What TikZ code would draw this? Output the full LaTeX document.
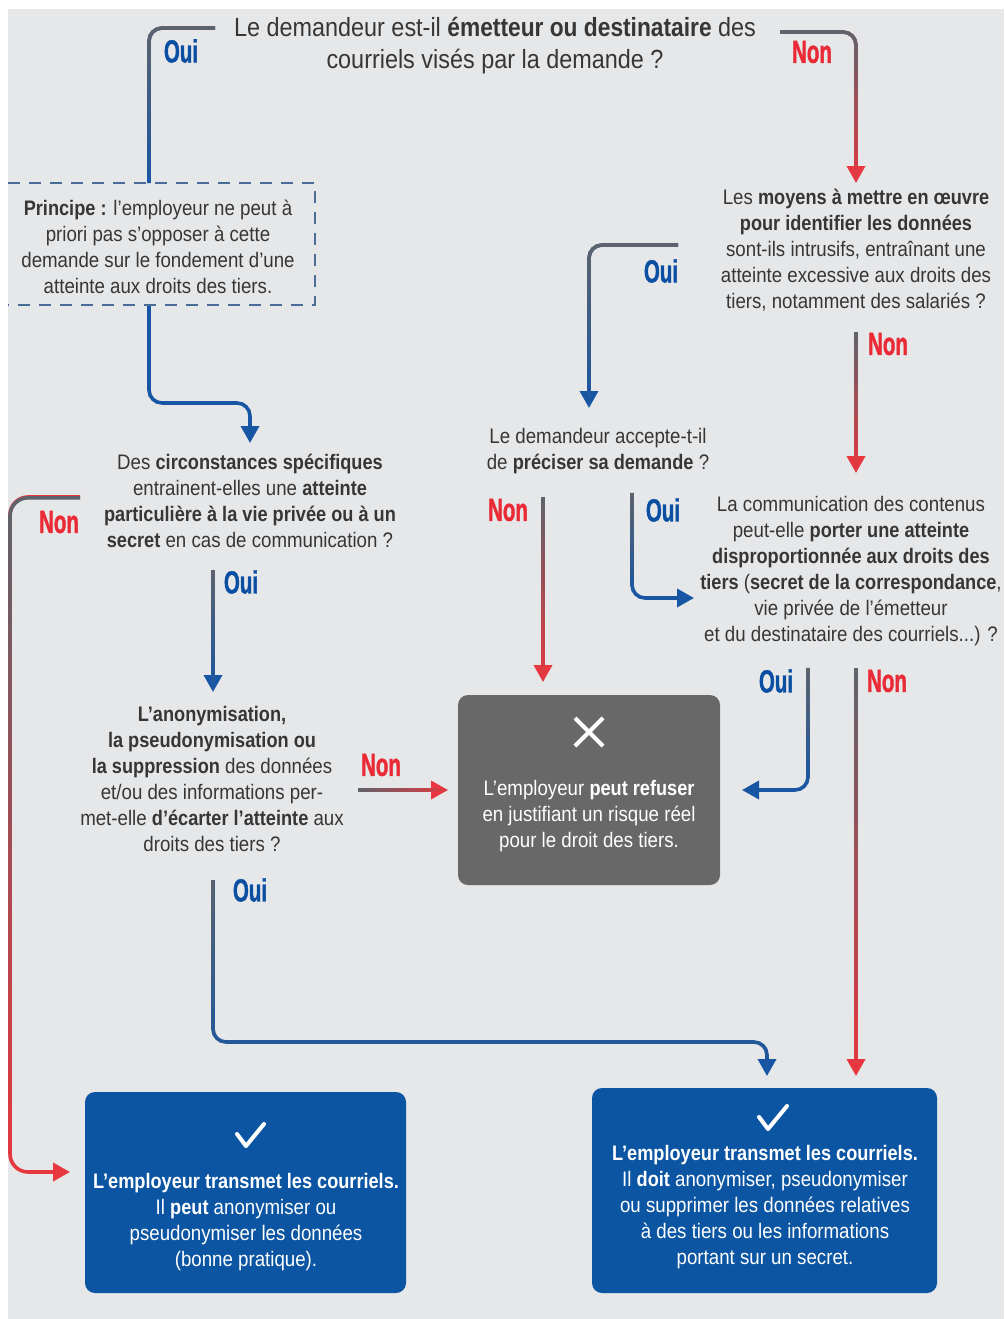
\documentclass[tikz,border=0pt]{standalone}
\usepackage{fontspec}
\setmainfont[FakeStretch=0.89,BoldFeatures={FakeStretch=0.865}]{Liberation Sans}
\newfontfamily\labfont[FakeStretch=0.64,FakeBold=1.2]{Liberation Sans Bold}
\usetikzlibrary{arrows.meta,fadings}
\definecolor{bg}{HTML}{E6E7E9}
\definecolor{txt}{HTML}{363636}
\definecolor{cblue}{HTML}{1756A4}
\definecolor{cred}{HTML}{E8373E}
\definecolor{cgray}{HTML}{5E646C}
\definecolor{lblue}{HTML}{0B4FA3}
\definecolor{lred}{HTML}{EA2B36}
\definecolor{boxblue}{HTML}{0B55A2}
\definecolor{boxgray}{HTML}{686868}
\definecolor{dashc}{HTML}{4A6C98}
\begin{document}
\begin{tikzpicture}[x=1pt,y=-1pt,
  txtn/.style={align=center, text=txt, inner sep=0pt, font=\fontsize{21}{26}\selectfont},
  wtxt/.style={align=center, text=white, inner sep=0pt, font=\fontsize{21}{26}\selectfont},
  oui/.style={text=lblue, inner sep=0pt, font=\labfont\fontsize{32}{32}\selectfont},
  non/.style={text=lred, inner sep=0pt, font=\labfont\fontsize{32}{32}\selectfont},
  conn/.style={line width=3.6pt, rounded corners=13pt},
  tip/.style={-{Triangle[width=18pt,length=17pt]}},
  bluec/.style={conn, draw=cblue},
  redc/.style={conn, draw=cred},
  fadeS/.style={postaction={draw=cgray, line width=3.6pt, path fading=south, -}},
  fadeE/.style={postaction={draw=cgray, line width=3.6pt, path fading=east, -}},
  outbox/.style={rounded corners=10pt, inner sep=0pt},
  icon/.style={draw=white, line width=4pt}
]
\useasboundingbox (0,0) rectangle (1004,1319);
\fill[white] (0,0) rectangle (1004,1319);
\fill[bg] (8,9) rectangle (1004,1319);

% ---------- text nodes ----------
\node[txtn, font=\fontsize{26.3}{32}\selectfont] (title) at (495,46)
  {Le demandeur est-il \textbf{émetteur ou destinataire} des\\courriels visés par la demande ?};
\node[txtn] (principe) at (158,247)
  {\textbf{Principe :} l’employeur ne peut à\\priori pas s’opposer à cette\\demande sur le fondement d’une\\atteinte aux droits des tiers.};
\node[txtn] (moyens) at (856,250)
  {Les \textbf{moyens à mettre en œuvre}\\\textbf{pour identifier les données}\\sont-ils intrusifs, entraînant une\\atteinte excessive aux droits des\\tiers, notamment des salariés ?};
\node[txtn] (accept) at (598,451)
  {Le demandeur accepte-t-il\\de \textbf{préciser sa demande} ?};
\node[txtn] (circ) at (250,501)
  {Des \textbf{circonstances spécifiques}\\entrainent-elles une \textbf{atteinte}\\\textbf{particulière à la vie privée ou à un}\\\textbf{secret} en cas de communication ?};
\node[txtn] (comm) at (851,571)
  {La communication des contenus\\peut-elle \textbf{porter une atteinte}\\\textbf{disproportionnée aux droits des}\\\textbf{tiers} (\textbf{secret de la correspondance},\\vie privée de l’émetteur\\et du destinataire des courriels...) ?};
\node[txtn] (anon) at (212,779)
  {\textbf{L’anonymisation,}\\\textbf{la pseudonymisation ou}\\\textbf{la suppression} des données\\et/ou des informations per-\\met-elle \textbf{d’écarter l’atteinte} aux\\droits des tiers ?};

% dashed principle frame
\draw[dashc, line width=1.8pt, dash pattern=on 12pt off 9pt]
  (8,183) -- (315,183) -- (315,305) -- (8,305);

% ---------- outcome boxes ----------
\node[outbox, fill=boxgray, minimum width=262pt, minimum height=190pt] (refuse) at (589,790) {};
\draw[icon] (575,718) -- (603,746) (575,746) -- (603,718);
\node[wtxt] (refusetxt) at (589,816)
  {L’employeur \textbf{peut refuser}\\en justifiant un risque réel\\pour le droit des tiers.};

\node[outbox, fill=boxblue, minimum width=321pt, minimum height=201pt] (okleft) at (245.5,1192.5) {};
\draw[icon, line cap=round, line join=round] (237,1134) -- (246,1146) -- (264,1124);
\node[wtxt] (oklefttxt) at (246,1222)
  {\textbf{L’employeur transmet les courriels.}\\Il \textbf{peut} anonymiser ou\\pseudonymiser les données\\(bonne pratique).};

\node[outbox, fill=boxblue, minimum width=345pt, minimum height=205pt] (okright) at (764.5,1190.5) {};
\draw[icon, line cap=round, line join=round] (759,1117) -- (768,1129) -- (787,1106);
\node[wtxt] (okrighttxt) at (765,1207)
  {\textbf{L’employeur transmet les courriels.}\\Il \textbf{doit} anonymiser, pseudonymiser\\ou supprimer les données relatives\\à des tiers ou les informations\\portant sur un secret.};

% ---------- connector end points ----------
\coordinate (a1) at (215,28);   \coordinate (b1) at (149,183);
\coordinate (a2) at (780,32);   \coordinate (b2) at (856,183);
\coordinate (a3) at (149,306);  \coordinate (b3) at (250,443);
\coordinate (a4) at (80,497);   \coordinate (b4) at (70,1172);
\coordinate (a5) at (213,570);  \coordinate (b5) at (213,692);
\coordinate (a6) at (358,790);  \coordinate (b6) at (448,790);
\coordinate (a7) at (213,880);  \coordinate (b7) at (767,1076);
\coordinate (a8) at (678,245);  \coordinate (b8) at (589,408);
\coordinate (a9) at (856,332);  \coordinate (b9) at (856,473);
\coordinate (a10) at (543,497); \coordinate (b10) at (543,682);
\coordinate (a11) at (632,493); \coordinate (b11) at (694,598);
\coordinate (a12) at (808,668); \coordinate (b12) at (742,790);
\coordinate (a13) at (856,668); \coordinate (b13) at (856,1076);

% ---------- connectors ----------
\draw[bluec, fadeS] (a1) -| (b1);
\draw[redc, tip, fadeS] (a2) -| (b2);
\draw[bluec, tip] (a3) -- (149,403) -| (b3);
\draw[redc, tip, fadeS, rounded corners=18pt] (a4) -| (10,1172) -- (b4);
\draw[bluec, tip, fadeS] (a5) -- (b5);
\draw[redc, tip, fadeE] (a6) -- (b6);
\draw[bluec, tip, fadeS] (a7) -- (213,1042) -| (b7);
\draw[bluec, tip, fadeS] (a8) -| (b8);
\draw[redc, tip, fadeS] (a9) -- (b9);
\draw[redc, tip, fadeS] (a10) -- (b10);
\draw[bluec, tip, fadeS] (a11) |- (b11);
\draw[bluec, tip, fadeS] (a12) |- (b12);
\draw[redc, tip, fadeS] (a13) -- (b13);

% ---------- labels ----------
\node[oui] (l1) at (181,51) {Oui};
\node[non] (l2) at (812,52) {Non};
\node[oui] (l3) at (661,271) {Oui};
\node[non] (l4) at (888,344) {Non};
\node[non] (l5) at (59,522) {Non};
\node[non] (l6) at (508,510) {Non};
\node[oui] (l7) at (663,510) {Oui};
\node[oui] (l8) at (241,582) {Oui};
\node[non] (l9) at (381,765) {Non};
\node[oui] (l10) at (776,681) {Oui};
\node[non] (l11) at (887,681) {Non};
\node[oui] (l12) at (250,890) {Oui};
\end{tikzpicture}
\end{document}
